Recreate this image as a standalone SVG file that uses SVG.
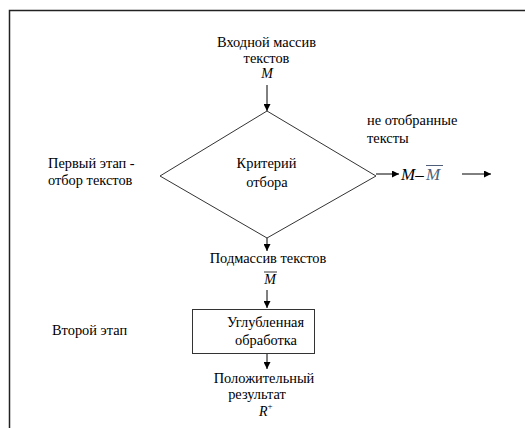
<svg xmlns="http://www.w3.org/2000/svg" width="525" height="428" viewBox="0 0 525 428">
<style>
.c{text-anchor:middle}
.i{font-style:italic}
.ln{stroke:#000;stroke-width:1;fill:none}
.sh{stroke:#333;stroke-width:1;fill:#fff}
</style>
<defs>
<marker id="ah" viewBox="0 0 10 10" refX="10" refY="5" markerWidth="7" markerHeight="7" markerUnits="userSpaceOnUse" orient="auto">
<path d="M0,0 L10,5 L0,10 z" fill="#000"/>
</marker>
</defs>
<rect width="525" height="428" fill="#fff"/>
<g id="frame"><path d="M9.5,428 V10.5 H525" stroke="#222" stroke-width="1.5" fill="none"/></g>
<g id="connectors">
<line class="ln" x1="267" y1="85" x2="267" y2="111" marker-end="url(#ah)"/>
<line class="ln" x1="267" y1="238" x2="267" y2="251" marker-end="url(#ah)"/>
<line class="ln" x1="267" y1="290" x2="267" y2="308" marker-end="url(#ah)"/>
<line class="ln" x1="267" y1="354" x2="267" y2="369" marker-end="url(#ah)"/>
<line class="ln" x1="376" y1="174" x2="399" y2="174" marker-end="url(#ah)"/>
<line class="ln" x1="462" y1="174" x2="491" y2="174" marker-end="url(#ah)"/>
</g>
<g id="input">
<text class="c" font-family="Liberation Serif" font-size="14.4" x="266.5" y="47">Входной массив</text>
<text class="c" font-family="Liberation Serif" font-size="14.4" x="266.5" y="63">текстов</text>
<text class="c i" font-family="Liberation Serif" font-size="14" x="267" y="78">M</text>
</g>
<g id="criterion">
<polygon class="sh" points="267,111 376,176 267,238 160,176"/>
<text class="c" font-family="Liberation Serif" font-size="14.4" x="266.5" y="168">Критерий</text>
<text class="c" font-family="Liberation Serif" font-size="14.4" x="267" y="187">отбора</text>
</g>
<g id="stage1">
<text font-family="Liberation Serif" font-size="14.4" x="48" y="168">Первый этап -</text>
<text font-family="Liberation Serif" font-size="14.4" x="48" y="185">отбор текстов</text>
</g>
<g id="rejected">
<text font-family="Liberation Serif" font-size="14.4" x="367" y="125">не отобранные</text>
<text font-family="Liberation Serif" font-size="14.4" x="367" y="143">тексты</text>
</g>
<g id="difference">
<text class="i" font-family="Liberation Serif" font-size="17" x="401" y="180">M–</text>
<text class="i" font-family="Liberation Serif" font-size="17" fill="#4f5f7a" x="426" y="180">M</text>
<line x1="426" y1="165.5" x2="443" y2="165.5" stroke="#4f5f7a" stroke-width="1"/>
</g>
<g id="subset">
<text class="c" font-family="Liberation Serif" font-size="14.4" x="268" y="263">Подмассив текстов</text>
<text class="c i" font-family="Liberation Serif" font-size="14" x="270" y="284">M</text>
<line x1="264" y1="272" x2="277" y2="272" stroke="#000" stroke-width="0.8"/>
</g>
<g id="stage2">
<text font-family="Liberation Serif" font-size="14.4" x="52" y="335">Второй этап</text>
</g>
<g id="processing">
<rect class="sh" x="192.5" y="309.5" width="122" height="44"/>
<text class="c" font-family="Liberation Serif" font-size="14.4" x="265.5" y="327">Углубленная</text>
<text class="c" font-family="Liberation Serif" font-size="14.4" x="266" y="345">обработка</text>
</g>
<g id="result">
<text class="c" font-family="Liberation Serif" font-size="14.4" x="264" y="383">Положительный</text>
<text class="c" font-family="Liberation Serif" font-size="14.4" x="257" y="399">результат</text>
<text class="i" font-family="Liberation Serif" font-size="14" x="259" y="416">R<tspan font-size="9" font-style="normal" dy="-7">+</tspan></text>
</g>
</svg>
